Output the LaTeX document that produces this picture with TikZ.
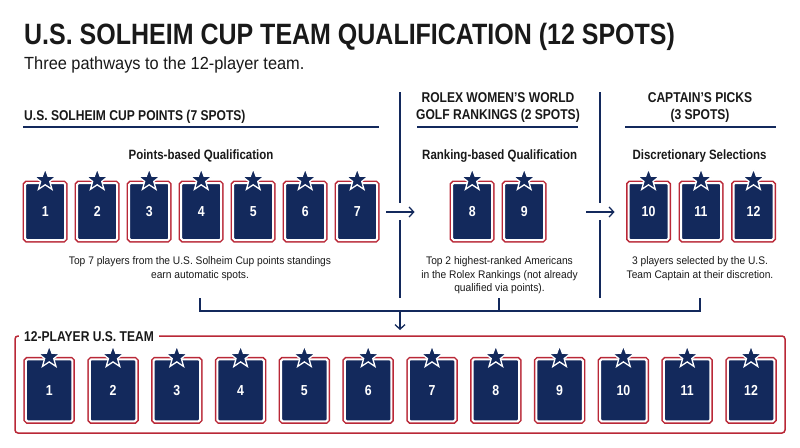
\documentclass[tikz,border=0pt]{standalone}
\usepackage{fontspec}
\setmainfont{Liberation Sans}
\newfontfamily\headfont[FakeStretch=0.85]{Liberation Sans}
\newfontfamily\bodyfont[FakeStretch=0.93]{Liberation Sans}
\usetikzlibrary{shapes.geometric,arrows.meta}
\definecolor{navy}{RGB}{19,41,92}
\definecolor{flagred}{RGB}{185,40,55}
\definecolor{ink}{RGB}{25,25,25}
\begin{document}
\begin{tikzpicture}[x=1pt,y=-1pt,
  card/.style={minimum width=40pt,minimum height=57pt,inner sep=0pt,fill=navy,draw=white,line width=2pt,rounded corners=1.5pt,preaction={draw=flagred,line width=5pt},text=white,font=\headfont\bfseries\fontsize{14.5}{14.5}\selectfont},
  bigcard/.style={card,minimum width=46.5pt,minimum height=62pt},
  badge/.style={star,star points=5,star point ratio=2.4,minimum size=23pt,inner sep=0pt,fill=navy,draw=white,line width=1.3pt},
  heading/.style={inner sep=0pt,text=ink,font=\headfont\bfseries\fontsize{14.2}{16.7}\selectfont},
  subhead/.style={inner sep=0pt,text=ink,font=\headfont\bfseries\fontsize{13.5}{13.5}\selectfont},
  desc/.style={inner sep=0pt,text=ink,align=center,font=\bodyfont\fontsize{11}{13.3}\selectfont},
  rule/.style={draw=navy,line width=1.4pt},
  link/.style={draw=navy,line width=1.3pt},
  flow/.style={link,-{Straight Barb[length=4.5pt,width=10pt,line width=1.3pt]}}
]
\useasboundingbox[fill=white] (0,0) rectangle (800,447);

% title
\node[inner sep=0pt,anchor=base west,text=ink,font=\headfont\bfseries\fontsize{29.4}{29.4}\selectfont] (title) at (24,44) {U.S. SOLHEIM CUP TEAM QUALIFICATION (12 SPOTS)};
\node[inner sep=0pt,anchor=base west,text=ink,font=\bodyfont\fontsize{17.6}{17.6}\selectfont] (subtitle) at (24,69) {Three pathways to the 12-player team.};

% section headings
\node[heading,anchor=base west] (h1) at (24,120.5) {U.S. SOLHEIM CUP POINTS (7 SPOTS)};
\node[heading,anchor=north,align=center] (h2) at (498,92.7) {ROLEX WOMEN’S WORLD\\GOLF RANKINGS (2 SPOTS)};
\node[heading,anchor=north,align=center] (h3) at (700,92.7) {CAPTAIN’S PICKS\\(3 SPOTS)};
\draw[rule] (23,127) -- (379,127);
\draw[rule] (417,127) -- (578,127);
\draw[rule] (625,127) -- (776,127);

% sub headings
\node[subhead,anchor=base] (sh1) at (201,159) {Points-based Qualification};
\node[subhead,anchor=base] (sh2) at (499.7,159) {Ranking-based Qualification};
\node[subhead,anchor=base] (sh3) at (699.5,159) {Discretionary Selections};

% dividers
\coordinate (d1a) at (400,92); \coordinate (d1b) at (400,203);
\coordinate (d1c) at (400,220); \coordinate (d1d) at (400,298);
\coordinate (d2a) at (600,92); \coordinate (d2b) at (600,203);
\coordinate (d2c) at (600,220); \coordinate (d2d) at (600,298);
\draw[link] (d1a) -- (d1b) (d1c) -- (d1d);
\draw[link] (d2a) -- (d2b) (d2c) -- (d2d);

% cards row 1
\foreach \i in {1,...,7}{
  \node[card] (p\i) at ({45.2+52*(\i-1)},211.5) {\i};
  \node[badge] (ps\i) at ([yshift=2pt]p\i.north) {};
}
\node[card] (p8) at (472.2,211.5) {8};
\node[card] (p9) at (524.2,211.5) {9};
\node[card] (p10) at (648.5,211.5) {10};
\node[card] (p11) at (701,211.5) {11};
\node[card] (p12) at (753.5,211.5) {12};
\foreach \i in {8,...,12}{
  \node[badge] (ps\i) at ([yshift=2pt]p\i.north) {};
}

% flow arrows
\coordinate (a1s) at (386,212); \coordinate (a1e) at (414.5,212);
\coordinate (a2s) at (586,212); \coordinate (a2e) at (614.5,212);
\draw[flow] (a1s) -- (a1e);
\draw[flow] (a2s) -- (a2e);

% descriptions
\node[desc,anchor=north] (desc1) at (200,256.7) {Top 7 players from the U.S. Solheim Cup points standings\\earn automatic spots.};
\node[desc,anchor=north] (desc2) at (499.5,256.7) {Top 2 highest-ranked Americans\\in the Rolex Rankings (not already\\qualified via points).};
\node[desc,anchor=north] (desc3) at (700,256.7) {3 players selected by the U.S.\\Team Captain at their discretion.};

% bracket
\coordinate (b1) at (200,298); \coordinate (b2) at (499,298); \coordinate (b3) at (700,298);
\coordinate (b1l) at (200,311); \coordinate (b2l) at (499,311); \coordinate (b3l) at (700,311);
\coordinate (bm) at (400,311); \coordinate (bt) at (400,330);
\draw[link,line join=miter] (b1) -- (b1l) -- (b3l) -- (b3);
\draw[link] (b2) -- (b2l);
\draw[flow] (bm) -- (bt);

% team box
\draw[flagred,line width=1.5pt,rounded corners=3pt] (15,336) rectangle (785,433);
\node[heading,anchor=base west,fill=white,inner xsep=5pt,inner ysep=1pt] (team) at (19,341.7) {12-PLAYER U.S. TEAM};
\foreach \i in {1,...,12}{
  \node[bigcard] (t\i) at ({49.2+63.8*(\i-1)},390.3) {\i};
  \node[badge] (ts\i) at ([yshift=1.2pt]t\i.north) {};
}
\end{tikzpicture}
\end{document}
